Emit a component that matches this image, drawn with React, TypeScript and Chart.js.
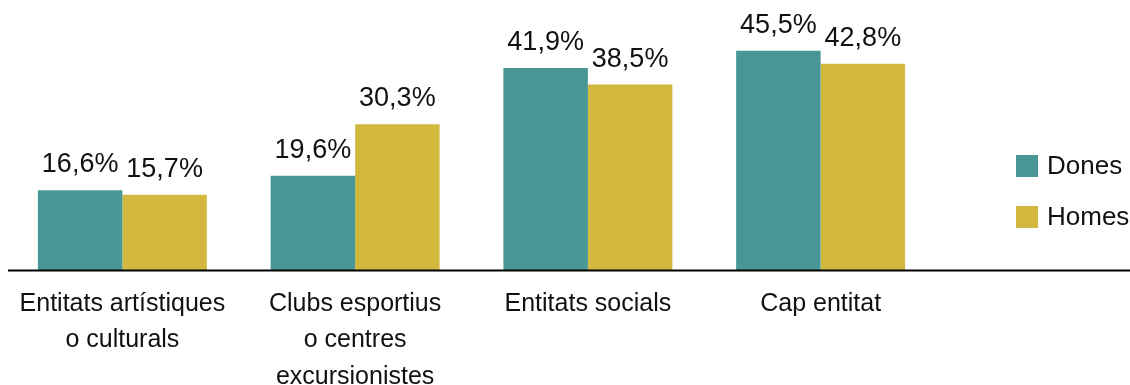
import React, { useEffect, useRef } from 'react';
import { Chart, registerables } from 'chart.js';

Chart.register(...registerables);

const categories: string[][] = [
  ['Entitats artístiques', 'o culturals'],
  ['Clubs esportius', 'o centres', 'excursionistes'],
  ['Entitats socials'],
  ['Cap entitat'],
];
const dones = [16.6, 19.6, 41.9, 45.5];
const homes = [15.7, 30.3, 38.5, 42.8];
const seriesNames = ['Dones', 'Homes'];
const seriesColors = ['#489695', '#d3b840'];
const FONT = '"Liberation Sans", Arial, Helvetica, sans-serif';

const fmt = (v: number) => v.toFixed(1).replace('.', ',') + '%';

const decorPlugin = {
  id: 'decor',
  afterDatasetsDraw(chart: any) {
    const ctx = chart.ctx;
    const y0 = chart.scales.y.getPixelForValue(0);
    ctx.save();
    // baseline
    ctx.strokeStyle = '#000';
    ctx.lineWidth = 2;
    ctx.beginPath();
    ctx.moveTo(8, y0);
    ctx.lineTo(chart.width, y0);
    ctx.stroke();
    // value labels
    ctx.fillStyle = '#111';
    ctx.font = `27px ${FONT}`;
    ctx.textAlign = 'center';
    ctx.textBaseline = 'alphabetic';
    chart.data.datasets.forEach((ds: any, i: number) => {
      const meta = chart.getDatasetMeta(i);
      meta.data.forEach((el: any, j: number) => {
        ctx.fillText(fmt(ds.data[j]), el.x, el.y - 18);
      });
    });
    // legend
    ctx.font = `26px ${FONT}`;
    chart.data.datasets.forEach((ds: any, i: number) => {
      const top = 155 + i * 51;
      ctx.fillStyle = ds.backgroundColor;
      ctx.fillRect(1016, top, 22, 22);
      ctx.fillStyle = '#111';
      ctx.textAlign = 'left';
      ctx.textBaseline = 'middle';
      ctx.fillText(ds.label, 1047, top + 12);
    });
    ctx.restore();
  },
};

export default function App() {
  const ref = useRef<HTMLCanvasElement | null>(null);
  useEffect(() => {
    document.body.style.margin = '0';
    if (!ref.current) return;
    const chart = new Chart(ref.current, {
      type: 'bar',
      data: {
        labels: categories,
        datasets: [
          { label: seriesNames[0], data: dones, backgroundColor: seriesColors[0] },
          { label: seriesNames[1], data: homes, backgroundColor: seriesColors[1] },
        ],
      },
      options: {
        animation: false,
        responsive: true,
        maintainAspectRatio: false,
        layout: { padding: { left: 6, right: 193, top: 0, bottom: 0 } },
        datasets: { bar: { categoryPercentage: 0.726, barPercentage: 1.0, borderWidth: 0 } },
        plugins: { legend: { display: false }, tooltip: { enabled: false } },
        scales: {
          x: {
            grid: { display: false, drawTicks: false, tickLength: 0 },
            border: { display: false },
            ticks: {
              color: '#111',
              padding: 15,
              maxRotation: 0,
              autoSkip: false,
              font: { family: FONT, size: 25, lineHeight: 1.46 },
            },
          },
          y: { display: false, min: 0, max: 56 },
        },
      } as any,
      plugins: [decorPlugin],
    });
    return () => chart.destroy();
  }, []);
  return (
    <div style={{ width: 1130, height: 385, overflow: 'hidden', background: '#fff' }}>
      <div style={{ position: 'relative', width: 1130, height: 410 }}>
        <canvas ref={ref} />
      </div>
    </div>
  );
}
